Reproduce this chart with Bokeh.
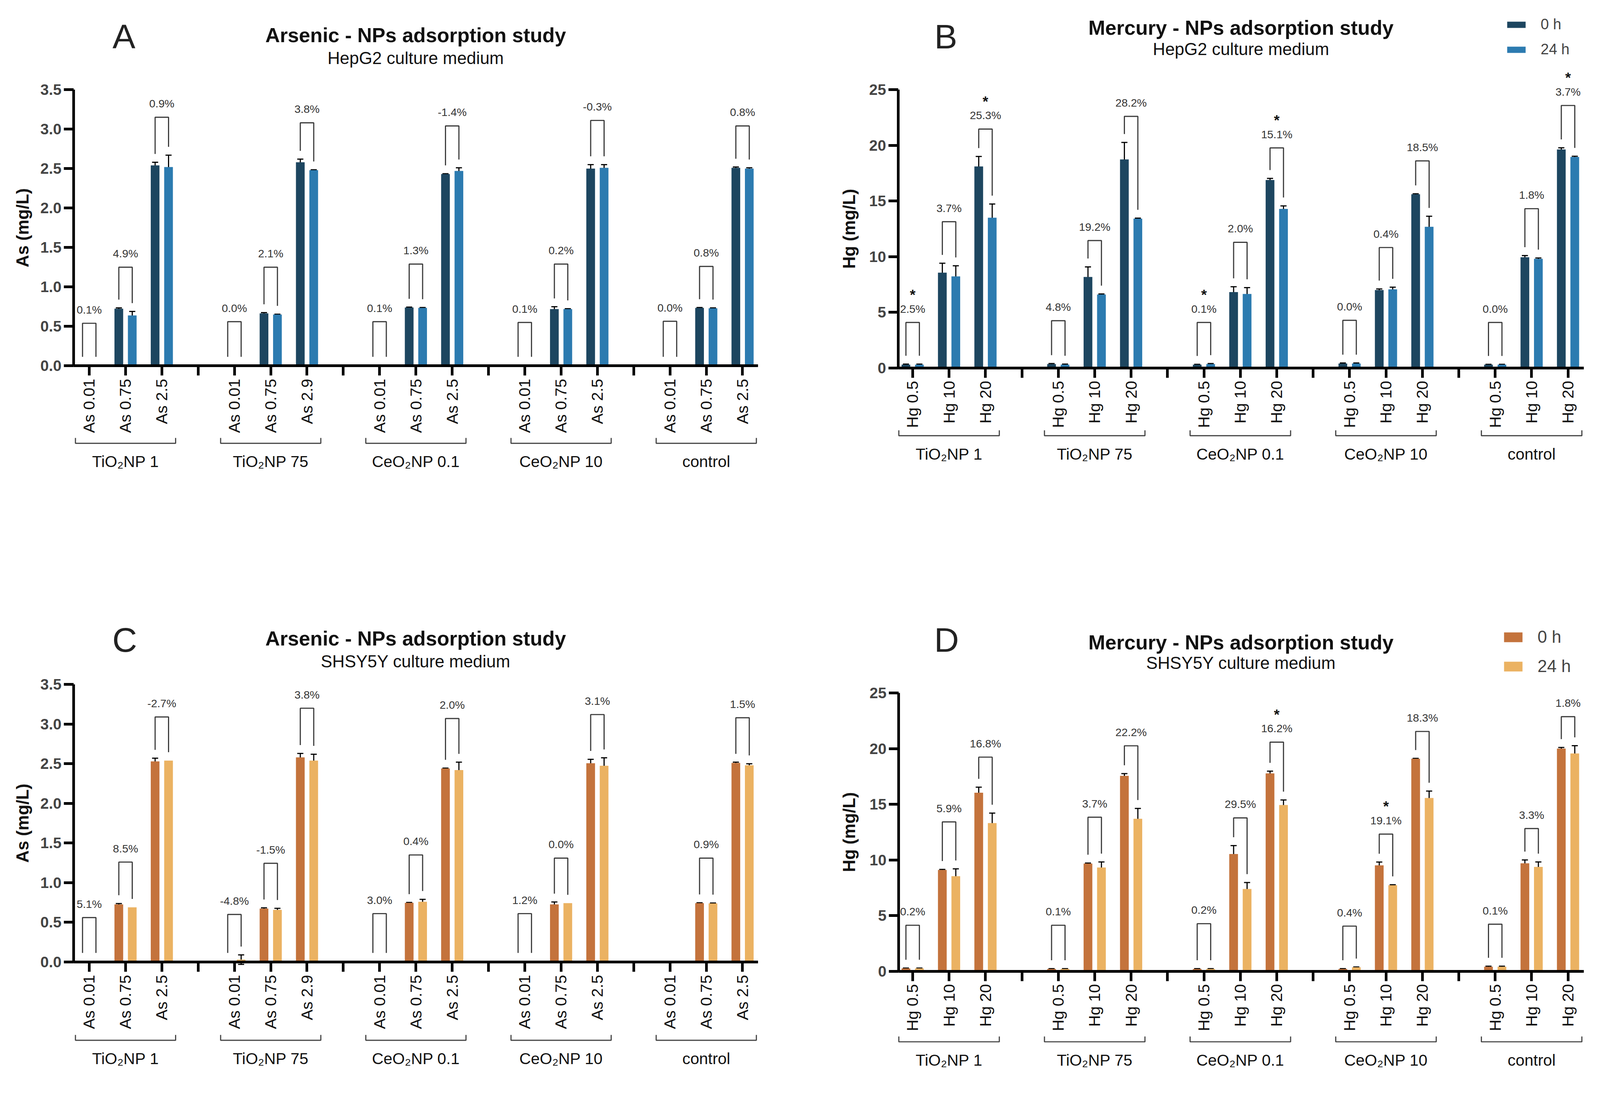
import math
from bokeh.plotting import figure
from bokeh.models import (ColumnDataSource, Range1d, FixedTicker, Whisker, TeeHead,
                          Legend, LegendItem, PrintfTickFormatter)
from bokeh.layouts import gridplot
from bokeh.embed import file_html
from bokeh.resources import INLINE
from bokeh.core.properties import value

FONT = "Liberation Sans"

# ---------------- data ----------------
groups = ["TiO\u2082NP 1", "TiO\u2082NP 75", "CeO\u2082NP 0.1", "CeO\u2082NP 10", "control"]
as_ticks = ["As 0.01", "As 0.75", "As 2.5",
            "As 0.01", "As 0.75", "As 2.9",
            "As 0.01", "As 0.75", "As 2.5",
            "As 0.01", "As 0.75", "As 2.5",
            "As 0.01", "As 0.75", "As 2.5"]
hg_ticks = ["Hg 0.5", "Hg 10", "Hg 20"] * 5
legend_labels = ["0 h", "24 h"]

# Panel A: Arsenic, HepG2
a_0h = [0.01, 0.725, 2.54, 0.01, 0.665, 2.58, 0.01, 0.74, 2.43, 0.01, 0.72, 2.50, 0.01, 0.735, 2.51]
a_0h_sd = [0, 0.01, 0.04, 0, 0.01, 0.04, 0, 0.005, 0.005, 0, 0.03, 0.05, 0, 0.005, 0.01]
a_24h = [0.01, 0.64, 2.52, 0.01, 0.65, 2.48, 0.01, 0.735, 2.47, 0.01, 0.72, 2.51, 0.01, 0.73, 2.50]
a_24h_sd = [0, 0.05, 0.15, 0, 0.005, 0.005, 0, 0.005, 0.04, 0, 0.005, 0.04, 0, 0.005, 0.01]
a_pct = ["0.1%", "4.9%", "0.9%", "0.0%", "2.1%", "3.8%", "0.1%", "1.3%", "-1.4%",
         "0.1%", "0.2%", "-0.3%", "0.0%", "0.8%", "0.8%"]
a_bracket = [0.54, 1.25, 3.15, 0.56, 1.25, 3.08, 0.56, 1.29, 3.04, 0.55, 1.29, 3.11, 0.565, 1.26, 3.04]
a_sig = [0] * 15

# Panel B: Mercury, HepG2
b_0h = [0.3, 8.56, 18.1, 0.35, 8.18, 18.73, 0.3, 6.82, 16.88, 0.4, 7.0, 15.6, 0.3, 9.95, 19.63]
b_0h_sd = [0.05, 0.85, 0.9, 0.05, 0.9, 1.53, 0.03, 0.48, 0.15, 0.05, 0.1, 0.05, 0.03, 0.15, 0.15]
b_24h = [0.3, 8.23, 13.5, 0.3, 6.6, 13.41, 0.35, 6.65, 14.29, 0.4, 7.06, 12.68, 0.3, 9.81, 18.95]
b_24h_sd = [0.05, 0.95, 1.23, 0.05, 0.05, 0.05, 0.05, 0.57, 0.27, 0.05, 0.2, 0.95, 0.03, 0.07, 0.07]
b_pct = ["2.5%", "3.7%", "25.3%", "4.8%", "19.2%", "28.2%", "0.1%", "2.0%", "15.1%",
         "0.0%", "0.4%", "18.5%", "0.0%", "1.8%", "3.7%"]
b_bracket = [4.09, 13.14, 21.46, 4.25, 11.45, 22.6, 4.09, 11.29, 19.77, 4.28, 10.82, 18.6, 4.09, 14.31, 23.58]
b_sig = [1, 0, 1, 0, 0, 0, 1, 0, 1, 0, 0, 0, 0, 0, 1]

# Panel C: Arsenic, SHSY5Y
c_0h = [0.01, 0.727, 2.53, 0.01, 0.673, 2.58, 0.01, 0.746, 2.44, 0.01, 0.727, 2.506, 0.01, 0.742, 2.51]
c_0h_sd = [0, 0.01, 0.04, 0, 0.01, 0.05, 0, 0.005, 0.005, 0, 0.03, 0.05, 0, 0.005, 0.01]
c_24h = [0.01, 0.69, 2.54, 0.03, 0.657, 2.54, 0.01, 0.76, 2.42, 0.01, 0.742, 2.475, 0.01, 0.739, 2.48]
c_24h_sd = [0, 0, 0, 0.06, 0.02, 0.08, 0, 0.03, 0.1, 0, 0, 0.1, 0, 0.005, 0.02]
c_pct = ["5.1%", "8.5%", "-2.7%", "-4.8%", "-1.5%", "3.8%", "3.0%", "0.4%", "2.0%",
         "1.2%", "0.0%", "3.1%", "", "0.9%", "1.5%"]
c_bracket = [0.56, 1.26, 3.09, 0.60, 1.245, 3.2, 0.61, 1.35, 3.07, 0.61, 1.31, 3.12, None, 1.31, 3.08]
c_sig = [0] * 15

# Panel D: Mercury, SHSY5Y
d_0h = [0.25, 9.1, 16.04, 0.2, 9.67, 17.56, 0.2, 10.53, 17.78, 0.2, 9.51, 19.1, 0.4, 9.7, 20.01]
d_0h_sd = [0.03, 0.05, 0.5, 0.03, 0.05, 0.2, 0.03, 0.76, 0.2, 0.03, 0.3, 0.03, 0.05, 0.3, 0.1]
d_24h = [0.25, 8.54, 13.31, 0.2, 9.32, 13.7, 0.2, 7.39, 14.94, 0.35, 7.72, 15.57, 0.4, 9.37, 19.57]
d_24h_sd = [0.03, 0.66, 0.9, 0.03, 0.5, 0.93, 0.03, 0.58, 0.45, 0.03, 0.05, 0.62, 0.05, 0.45, 0.7]
d_pct = ["0.2%", "5.9%", "16.8%", "0.1%", "3.7%", "22.2%", "0.2%", "29.5%", "16.2%",
         "0.4%", "19.1%", "18.3%", "0.1%", "3.3%", "1.8%"]
d_bracket = [4.13, 13.42, 19.24, 4.13, 13.84, 20.26, 4.27, 13.78, 20.59, 4.05, 12.32, 21.55, 4.22, 12.82, 22.88]
d_sig = [0, 0, 0, 0, 0, 0, 0, 0, 1, 0, 1, 0, 0, 0, 0]

as_yticks = [0, 0.5, 1.0, 1.5, 2.0, 2.5, 3.0, 3.5]
hg_yticks = [0, 5, 10, 15, 20, 25]

BLUE = ("#1d4660", "#2c7bb0")
ORANGE = ("#c4733c", "#ebb262")

# ---------------- layout ----------------
F = 0.975             # css px per reference px
W, H = 2050, 1388     # css size of each panel


def px(v):
    return v * F


def ipx(v):
    return int(round(v * F))


def fs(v):
    return "%.1fpx" % (v * F)


def make_panel(letter, title, subtitle, ylabel, ticks_lab, yticks, fmt,
               v0, s0, v1, s1, pct, brk, sig, colors, L, legend=None):
    Y0, K, X0, S = L["Y0"], L["K"], L["X0"], L["S"]
    fx, fy = L["fx"], L["fy"]          # css origin of panel
    dy = lambda r: (Y0 - r) / K        # reference px -> data
    dx = lambda r: (r - X0) / S
    ymax = yticks[-1]

    p = figure(width=W, height=H, output_backend="svg", toolbar_location=None, tools="",
               x_range=Range1d(dx(fx / F), dx((fx + W) / F)),
               y_range=Range1d(dy((fy + H) / F), dy(fy / F)),
               min_border_left=0, min_border_right=0,
               min_border_top=0, min_border_bottom=0,
               outline_line_color=None, background_fill_color="white",
               border_fill_color="white")
    p.xgrid.visible = False
    p.ygrid.visible = False

    pos = [4 * (i // 3) + (i % 3) for i in range(15)]
    seps = [3, 7, 11, 15]
    ax_l, ax_r = dx(L["axl"]), dx(L["axr"])

    xa = p.xaxis[0]
    xa.fixed_location = 0
    xa.bounds = (ax_l, ax_r)
    xa.ticker = FixedTicker(ticks=list(range(19)))
    ov = {pp: t for pp, t in zip(pos, ticks_lab)}
    ov.update({s: "" for s in seps})
    xa.major_label_overrides = ov
    xa.major_label_orientation = math.pi / 2
    xa.major_label_text_font = FONT
    xa.major_label_text_font_size = fs(42)
    xa.major_label_text_color = "#111111"
    xa.major_label_standoff = ipx(8)
    xa.axis_line_width = px(7)
    xa.axis_line_color = "black"
    xa.major_tick_line_width = px(7)
    xa.major_tick_out = ipx(26)
    xa.major_tick_in = 0
    xa.minor_tick_line_color = None

    ya = p.yaxis[0]
    ya.fixed_location = ax_l
    ya.bounds = (0, ymax)
    ya.ticker = FixedTicker(ticks=yticks)
    ya.formatter = PrintfTickFormatter(format=fmt)
    ya.major_label_text_font = FONT
    ya.major_label_text_font_style = "bold"
    ya.major_label_text_font_size = fs(40)
    ya.major_label_standoff = ipx(6)
    ya.axis_line_width = px(7)
    ya.major_tick_line_width = px(7)
    ya.major_tick_out = ipx(26)
    ya.major_tick_in = 0
    ya.minor_tick_line_color = None

    # y axis title
    p.text(x=[dx(L["ylab"])], y=[ymax / 2], text=[ylabel], angle=math.pi / 2,
           text_font=value(FONT), text_font_size=value(fs(45)), text_font_style="bold",
           text_color="#111111", text_align="center", text_baseline="middle")

    off = 0.185
    src = ColumnDataSource(dict(x0=[q - off for q in pos], x1=[q + off for q in pos],
                                v0=v0, v1=v1))
    r0 = p.vbar(x="x0", top="v0", width=0.24, source=src, fill_color=colors[0], line_color=None)
    r1 = p.vbar(x="x1", top="v1", width=0.24, source=src, fill_color=colors[1], line_color=None)

    for xs_key, vals, sds in (("x0", v0, s0), ("x1", v1, s1)):
        xs = src.data[xs_key]
        bx = [x for x, s in zip(xs, sds) if s > 0]
        up = [v + s for v, s in zip(vals, sds) if s > 0]
        lo = [v - s for v, s in zip(vals, sds) if s > 0]
        es = ColumnDataSource(dict(x=bx, u=up, l=lo))
        w = Whisker(source=es, base="x", upper="u", lower="l", line_width=px(3),
                    line_color="black",
                    upper_head=TeeHead(size=px(16), line_width=px(3), line_color="black"),
                    lower_head=TeeHead(size=px(16), line_width=px(3), line_color="black"))
        p.add_layout(w)

    # comparison brackets
    gap = 0.03 * ymax
    bxs, bys, lx, ly, lt, sx, sy = [], [], [], [], [], [], []
    for i in range(15):
        if brk[i] is None:
            continue
        xl, xr = pos[i] - off, pos[i] + off
        yl = v0[i] + s0[i] + gap
        yr = v1[i] + s1[i] + gap
        bxs.append([xl, xl, xr, xr])
        bys.append([yl, brk[i], brk[i], yr])
        lx.append(pos[i]); ly.append(brk[i]); lt.append(pct[i])
        if sig[i]:
            sx.append(pos[i]); sy.append(brk[i])
    p.multi_line(bxs, bys, line_color="#3a3a3a", line_width=px(3))
    p.text(x=lx, y=ly, text=lt, y_offset=px(-36), text_font=value(FONT),
           text_font_size=value(fs(29)), text_color="#333333",
           text_align="center", text_baseline="middle")
    if sx:
        p.text(x=sx, y=sy, text=["*"] * len(sx), y_offset=px(-72), text_font=value(FONT),
               text_font_size=value(fs(38)), text_font_style="bold", text_color="#111111",
               text_align="center", text_baseline="middle")

    # group brackets and labels
    gb = dy(L["gb"])
    tick = 14 / K
    gxs = [[4 * g - 0.38, 4 * g - 0.38, 4 * g + 2.38, 4 * g + 2.38] for g in range(5)]
    gys = [[gb + tick, gb, gb, gb + tick] for g in range(5)]
    p.multi_line(gxs, gys, line_color="#444444", line_width=px(3))
    p.text(x=[4 * g + 1 for g in range(5)], y=[dy(L["gl"])] * 5, text=groups,
           text_font=value(FONT), text_font_size=value(fs(42)), text_color="#111111",
           text_align="center", text_baseline="middle")

    # titles
    p.text(x=[dx(L["letter"][0])], y=[dy(L["letter"][1])], text=[letter],
           text_font=value(FONT), text_font_size=value(fs(90)), text_color="#222222",
           text_align="center", text_baseline="middle")
    p.text(x=[dx(L["title"][0])], y=[dy(L["title"][1])], text=[title],
           text_font=value(FONT), text_font_size=value(fs(53)), text_font_style="bold",
           text_color="#111111", text_align="center", text_baseline="middle")
    p.text(x=[dx(L["sub"][0])], y=[dy(L["sub"][1])], text=[subtitle],
           text_font=value(FONT), text_font_size=value(fs(45)), text_color="#111111",
           text_align="center", text_baseline="middle")

    if legend is not None:
        lg = Legend(items=[LegendItem(label=legend_labels[0], renderers=[r0]),
                           LegendItem(label=legend_labels[1], renderers=[r1])],
                    location=legend["loc"], glyph_width=ipx(legend["gw"]),
                    glyph_height=ipx(legend["gh"]),
                    label_text_font=FONT, label_text_font_size=fs(legend["fs"]),
                    label_standoff=ipx(legend["standoff"]), spacing=legend["spacing"],
                    padding=0, margin=0, border_line_alpha=0, background_fill_alpha=0)
        p.add_layout(lg)
    return p


LA = dict(Y0=968.7, K=207.3, X0=242.0, S=95.3, fx=8, fy=8, axl=201, axr=1998, ylab=67,
          letter=(333, 104), title=(1099, 100), sub=(1099, 160), gb=1172, gl=1220)
LB = dict(Y0=974.2, K=29.24, X0=2404.0, S=95.6, fx=8 + W, fy=8, axl=2366, axr=4166, ylab=2237,
          letter=(2491, 104), title=(3266, 80), sub=(3266, 136), gb=1152, gl=1200)
LC = dict(Y0=2534.4, K=208.3, X0=242.0, S=95.3, fx=8, fy=8 + H, axl=201, axr=1998, ylab=67,
          letter=(335, 1689), title=(1099, 1685), sub=(1099, 1745), gb=2740, gl=2788)
LD = dict(Y0=2558.5, K=29.22, X0=2404.0, S=95.6, fx=8 + W, fy=8 + H, axl=2367, axr=4166, ylab=2237,
          letter=(2493, 1689), title=(3266, 1695), sub=(3266, 1749), gb=2744, gl=2792)

legB = dict(loc=(1802, 1240), gw=61, gh=20, fs=39, standoff=34, spacing=21)
legD = dict(loc=(1794, 1045), gw=61, gh=32, fs=45, standoff=34, spacing=25)

pA = make_panel("A", "Arsenic - NPs adsorption study", "HepG2 culture medium", "As (mg/L)",
                as_ticks, as_yticks, "%.1f", a_0h, a_0h_sd, a_24h, a_24h_sd,
                a_pct, a_bracket, a_sig, BLUE, LA)
pB = make_panel("B", "Mercury - NPs adsorption study", "HepG2 culture medium", "Hg (mg/L)",
                hg_ticks, hg_yticks, "%d", b_0h, b_0h_sd, b_24h, b_24h_sd,
                b_pct, b_bracket, b_sig, BLUE, LB, legB)
pC = make_panel("C", "Arsenic - NPs adsorption study", "SHSY5Y culture medium", "As (mg/L)",
                as_ticks, as_yticks, "%.1f", c_0h, c_0h_sd, c_24h, c_24h_sd,
                c_pct, c_bracket, c_sig, ORANGE, LC)
pD = make_panel("D", "Mercury - NPs adsorption study", "SHSY5Y culture medium", "Hg (mg/L)",
                hg_ticks, hg_yticks, "%d", d_0h, d_0h_sd, d_24h, d_24h_sd,
                d_pct, d_bracket, d_sig, ORANGE, LD, legD)

grid = gridplot([[pA, pB], [pC, pD]], toolbar_location=None)
open("out.html", "w").write(file_html(grid, INLINE))
